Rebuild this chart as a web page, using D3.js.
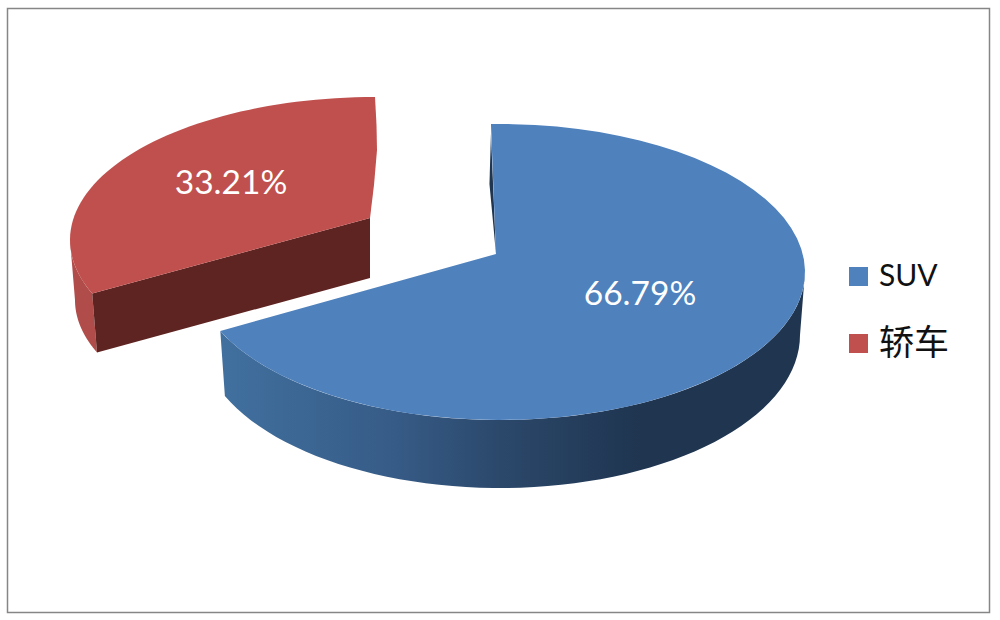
<!DOCTYPE html>
<html>
<head>
<meta charset="utf-8">
<script src="https://cdn.jsdelivr.net/npm/d3@7"></script>
<style>
  html, body { margin: 0; background: #fff; }
  text { font-family: Lato, "Noto Sans CJK SC", sans-serif; }
</style>
</head>
<body>
<div id="chart"></div>
<script>
const categories = ['SUV', '轿车'];
const shares = [66.79, 33.21];

const width = 1000;
const height = 620;
const rad = d3.scaleLinear().domain([0, 360]).range([0, 2 * Math.PI]);

// the 3d look: each slice has its own top and bottom ellipse, t is degrees from 12 o'clock
const shapes = [
  {
    top: { cx: 500, cy: 272, rx: 305, ry: 148 },
    bottom: { cx: 500, cy: 335, rx: 300, ry: 153 },
    apex: [496, 254],
    t: [-1.7, 246.5],
    wall: [90, 246.5],
    bulge: [],
    fill: '#4f81bd',
    label: [640, 293]
  },
  {
    top: { cx: 375, cy: 240, rx: 305, ry: 143 },
    bottom: { cx: 377, cy: 300, rx: 302, ry: 140 },
    apex: [370, 218],
    t: [248, 360],
    wall: [248, 270],
    bulge: [[376.5, 125], [377, 150], [374, 185]],
    fill: '#c0504d',
    label: [231, 182]
  }
];

const svg = d3.select('#chart')
  .append('svg')
  .attr('width', width)
  .attr('height', height)
  .style('display', 'block');

const grad = svg.append('defs')
  .append('linearGradient')
  .attr('id', 'blue-wall')
  .attr('gradientUnits', 'userSpaceOnUse')
  .attr('x1', 220).attr('y1', 0)
  .attr('x2', 805).attr('y2', 0);

grad.selectAll('stop')
  .data([[0, '#41709f'], [0.3, '#365b86'], [0.5, '#2a4668'], [0.72, '#1f3550'], [1, '#1f3550']])
  .enter()
  .append('stop')
  .attr('offset', d => d[0])
  .attr('stop-color', d => d[1]);

svg.append('rect')
  .attr('x', 7.5)
  .attr('y', 8.5)
  .attr('width', 982)
  .attr('height', 604)
  .attr('fill', '#fff')
  .attr('stroke', '#868686')
  .attr('stroke-width', 1.5);

const pie = d3.pie().sort(null).value(d => d);
const slices = pie(shares);
const line = d3.line();

function rim(e, from, to) {
  return d3.range(0, 61).map(i => {
    const a = rad(from + (to - from) * i / 60);
    return [e.cx + e.rx * Math.sin(a), e.cy - e.ry * Math.cos(a)];
  });
}

function topFace(d, s) {
  // pie angle to ellipse angle
  const toT = d3.scaleLinear().domain([d.startAngle, d.endAngle]).range(s.t);
  return line([s.apex].concat(rim(s.top, toT(d.startAngle), toT(d.endAngle)), s.bulge)) + 'Z';
}

function wall(s) {
  const upper = rim(s.top, s.wall[0], s.wall[1]);
  const lower = rim(s.bottom, s.wall[1], s.wall[0]);
  return line(upper.concat(lower)) + 'Z';
}

// red slice is behind
const red = svg.append('g').attr('class', 'slice-red');
const rs = shapes[1];
const depth = rs.bottom.cy - rs.top.cy;
const redStart = rim(rs.top, rs.t[0], rs.t[0])[0];
const redStartLow = rim(rs.bottom, rs.t[0], rs.t[0])[0];

red.append('path')
  .attr('d', wall(rs))
  .attr('fill', '#b04c49');

red.append('path')
  .attr('d', line([redStart, rs.apex, [rs.apex[0], rs.apex[1] + depth], redStartLow]) + 'Z')
  .attr('fill', '#5e2421');

red.append('path')
  .attr('d', topFace(slices[1], rs))
  .attr('fill', rs.fill);

const blue = svg.append('g').attr('class', 'slice-blue');
const bs = shapes[0];
const blueEnd = rim(bs.top, bs.t[0], bs.t[0])[0];

// thin dark sliver of the far cut face
blue.append('path')
  .attr('d', line([[blueEnd[0], blueEnd[1] + 10], [blueEnd[0] - 1.5, blueEnd[1] + 60], bs.apex]) + 'Z')
  .attr('fill', '#1f3550');

blue.append('path')
  .attr('d', wall(bs))
  .attr('fill', 'url(#blue-wall)');

blue.append('path')
  .attr('d', topFace(slices[0], bs))
  .attr('fill', bs.fill);

svg.append('g')
  .selectAll('text')
  .data(slices)
  .enter()
  .append('text')
  .attr('x', (d, i) => shapes[i].label[0])
  .attr('y', (d, i) => shapes[i].label[1])
  .attr('dy', '0.36em')
  .attr('text-anchor', 'middle')
  .attr('fill', '#fff')
  .attr('font-size', 33.5)
  .text(d => d3.format('.2f')(d.data) + '%');

const legendY = d3.scalePoint().domain(categories).range([276.5, 343.5]);

const legend = svg.append('g')
  .attr('id', 'legend')
  .selectAll('g')
  .data(categories)
  .enter()
  .append('g')
  .attr('transform', d => `translate(849, ${legendY(d)})`);

legend.append('rect')
  .attr('y', -9.5)
  .attr('width', 19)
  .attr('height', 19)
  .attr('fill', (d, i) => shapes[i].fill);

legend.append('text')
  .attr('x', 30)
  .attr('dy', (d, i) => i ? '0.32em' : '0.33em')
  .attr('font-size', (d, i) => i ? 35 : 30)
  .attr('fill', '#111')
  .text(d => d);
</script>
</body>
</html>
